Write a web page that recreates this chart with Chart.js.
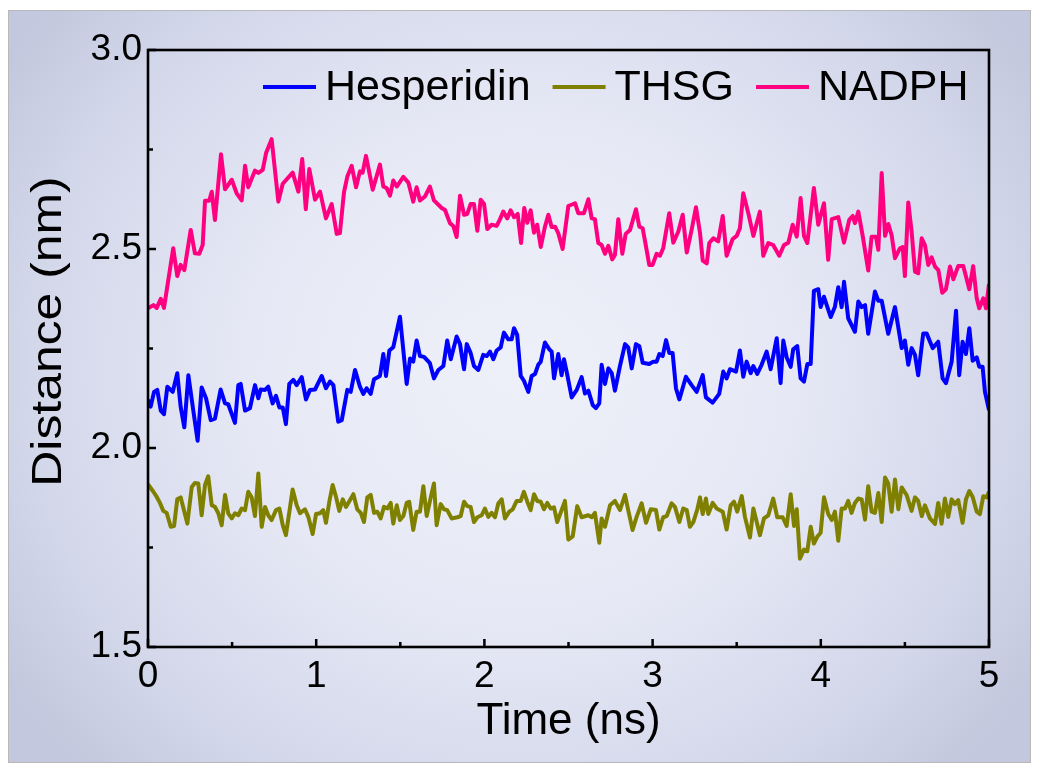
<!DOCTYPE html>
<html>
<head>
<meta charset="utf-8">
<title>Distance vs time</title>
<script src="https://cdn.jsdelivr.net/npm/chart.js@4.4.0/dist/chart.umd.min.js"></script>
<style>
  html, body { margin: 0; padding: 0; background: #fff; }
  #frame {
    position: absolute; left: 8px; top: 10px; width: 1021px; height: 751px;
    border: 1px solid #b9b9b9;
    background: radial-gradient(ellipse 60% 75% at 50% 48%, #eef0f9 0%, #e6e8f5 45%, #d3d7ea 80%, #c3c8de 100%);
  }
  #chart { position: absolute; left: 0; top: 0; }
</style>
</head>
<body>
<div id="frame"></div>
<canvas id="chart" width="1038" height="769"></canvas>
<script>
// ---- data (time in ns, distance in nm) ----
var seriesNames = ["Hesperidin", "THSG", "NADPH"];
var xTitle = "Time (ns)";
var yTitle = "Distance (nm)";

var hespTime = [0,.016,.036,.055,.076,.095,.115,.147,.174,.194,.216,.240,.269,.295,.319,.345,.373,.398,.432,.458,
  .477,.517,.537,.551,.577,.606,.636,.656,.670,.696,.715,.741,.761,.781,.801,.820,.840,.864,.884,.914,
  .939,.963,.993,1.033,1.058,1.082,1.102,1.131,1.152,1.185,1.205,1.231,1.260,1.280,1.300,1.324,1.344,1.379,1.399,1.415,
  1.435,1.458,1.498,1.538,1.558,1.577,1.597,1.617,1.641,1.676,1.700,1.726,1.756,1.779,1.800,1.835,1.855,1.879,1.895,1.918,
  1.938,1.964,1.993,2.014,2.033,2.053,2.073,2.097,2.116,2.142,2.162,2.176,2.195,2.216,2.235,2.261,2.281,2.301,2.320,2.335,
  2.360,2.386,2.400,2.414,2.439,2.459,2.473,2.489,2.519,2.549,2.578,2.598,2.618,2.644,2.663,2.683,2.697,2.717,2.737,2.757,
  2.776,2.806,2.836,2.855,2.876,2.901,2.921,2.941,2.980,3.004,3.024,3.040,3.060,3.080,3.099,3.119,3.139,3.159,3.198,3.232,
  3.262,3.298,3.317,3.357,3.396,3.420,3.440,3.460,3.496,3.519,3.539,3.559,3.583,3.599,3.622,3.648,3.678,3.702,3.738,3.761,
  3.777,3.797,3.821,3.836,3.860,3.880,3.900,3.920,3.940,3.959,3.985,3.999,4.019,4.059,4.084,4.104,4.124,4.138,4.163,4.203,
  4.223,4.243,4.263,4.282,4.322,4.342,4.362,4.401,4.441,4.481,4.500,4.520,4.540,4.560,4.579,4.609,4.629,4.665,4.698,4.724,
  4.744,4.778,4.804,4.823,4.843,4.863,4.883,4.903,4.927,4.942,4.962,4.976,5.000];
var hespDist = [2.121,2.104,2.141,2.146,2.094,2.085,2.154,2.141,2.188,2.104,2.052,2.183,2.095,2.018,2.152,2.125,2.070,2.074,2.147,2.112,
  2.110,2.063,2.158,2.161,2.094,2.100,2.158,2.125,2.147,2.146,2.154,2.112,2.131,2.102,2.102,2.060,2.161,2.171,2.158,2.178,
  2.122,2.146,2.147,2.181,2.150,2.167,2.158,2.066,2.070,2.146,2.141,2.196,2.154,2.136,2.150,2.136,2.173,2.181,2.236,2.181,
  2.245,2.253,2.330,2.161,2.225,2.217,2.270,2.231,2.229,2.213,2.175,2.196,2.206,2.270,2.223,2.280,2.261,2.198,2.261,2.239,
  2.206,2.196,2.234,2.231,2.242,2.223,2.245,2.253,2.290,2.273,2.273,2.301,2.284,2.181,2.169,2.141,2.181,2.186,2.209,2.217,
  2.265,2.248,2.242,2.175,2.236,2.183,2.223,2.192,2.127,2.146,2.178,2.137,2.144,2.108,2.100,2.112,2.209,2.161,2.200,2.188,
  2.144,2.206,2.261,2.253,2.200,2.261,2.256,2.214,2.211,2.217,2.217,2.236,2.231,2.271,2.239,2.239,2.150,2.122,2.179,2.158,
  2.141,2.183,2.127,2.114,2.136,2.192,2.175,2.198,2.192,2.245,2.179,2.217,2.188,2.206,2.186,2.209,2.242,2.198,2.276,2.163,
  2.270,2.228,2.204,2.248,2.256,2.175,2.167,2.211,2.211,2.395,2.399,2.354,2.380,2.329,2.355,2.404,2.354,2.418,2.326,2.292,
  2.368,2.354,2.359,2.287,2.393,2.370,2.370,2.287,2.354,2.251,2.270,2.209,2.251,2.234,2.183,2.288,2.288,2.251,2.267,2.175,
  2.163,2.217,2.345,2.183,2.267,2.236,2.301,2.219,2.228,2.204,2.204,2.141,2.095];

var thsgTime = [0,.032,.052,.071,.091,.111,.135,.155,.174,.194,.234,.260,.279,.299,.319,.339,.358,.379,.398,.418,
  .438,.458,.477,.498,.517,.537,.557,.577,.596,.616,.636,.656,.676,.696,.715,.735,.761,.781,.801,.820,
  .860,.884,.904,.933,.953,.979,.999,1.023,1.042,1.058,1.078,1.098,1.118,1.137,1.158,1.177,1.221,1.244,1.265,1.284,
  1.304,1.324,1.344,1.363,1.383,1.403,1.423,1.443,1.458,1.479,1.498,1.518,1.538,1.553,1.577,1.597,1.617,1.637,1.657,1.681,
  1.700,1.716,1.740,1.760,1.779,1.805,1.839,1.859,1.879,1.898,1.918,1.938,1.958,1.984,2.003,2.023,2.043,2.063,2.083,2.103,
  2.122,2.148,2.168,2.192,2.216,2.235,2.255,2.275,2.295,2.314,2.335,2.354,2.374,2.394,2.414,2.433,2.453,2.479,2.499,2.525,
  2.552,2.578,2.618,2.638,2.657,2.683,2.697,2.717,2.747,2.776,2.806,2.836,2.855,2.881,2.905,2.935,2.961,2.989,3.020,3.040,
  3.063,3.084,3.113,3.133,3.159,3.182,3.203,3.222,3.242,3.266,3.282,3.298,3.317,3.331,3.357,3.381,3.417,3.440,3.464,3.484,
  3.503,3.530,3.549,3.579,3.599,3.619,3.638,3.662,3.688,3.717,3.741,3.773,3.797,3.821,3.841,3.857,3.876,3.900,3.920,3.940,
  3.959,3.979,3.999,4.019,4.044,4.065,4.084,4.104,4.124,4.144,4.163,4.183,4.203,4.223,4.243,4.263,4.282,4.302,4.322,4.342,
  4.362,4.382,4.401,4.421,4.441,4.461,4.481,4.510,4.540,4.560,4.579,4.600,4.619,4.649,4.679,4.698,4.718,4.738,4.758,4.778,
  4.797,4.817,4.843,4.863,4.883,4.903,4.927,4.946,4.966,4.986,5.000];
var thsgDist = [1.909,1.890,1.877,1.862,1.842,1.837,1.802,1.804,1.871,1.876,1.810,1.902,1.912,1.911,1.831,1.907,1.929,1.856,1.852,1.836,
  1.806,1.882,1.836,1.823,1.836,1.831,1.848,1.844,1.890,1.876,1.829,1.936,1.802,1.852,1.831,1.819,1.844,1.848,1.806,1.781,
  1.896,1.856,1.836,1.846,1.827,1.784,1.834,1.836,1.844,1.812,1.865,1.907,1.877,1.842,1.871,1.852,1.884,1.846,1.837,1.814,
  1.876,1.882,1.837,1.840,1.823,1.852,1.848,1.862,1.810,1.856,1.819,1.829,1.862,1.865,1.794,1.840,1.840,1.904,1.829,1.876,
  1.911,1.806,1.859,1.846,1.844,1.823,1.826,1.829,1.865,1.854,1.852,1.814,1.826,1.831,1.848,1.827,1.837,1.826,1.861,1.871,
  1.823,1.840,1.846,1.867,1.867,1.890,1.865,1.844,1.884,1.867,1.865,1.846,1.862,1.848,1.851,1.814,1.837,1.867,1.770,1.778,
  1.854,1.826,1.831,1.826,1.837,1.762,1.823,1.802,1.856,1.867,1.844,1.882,1.844,1.794,1.827,1.861,1.812,1.846,1.844,1.795,
  1.826,1.829,1.861,1.852,1.814,1.848,1.844,1.802,1.814,1.846,1.876,1.834,1.873,1.834,1.862,1.848,1.840,1.795,1.856,1.865,
  1.840,1.879,1.827,1.775,1.848,1.814,1.781,1.823,1.831,1.873,1.826,1.826,1.804,1.884,1.804,1.846,1.722,1.745,1.741,1.802,
  1.760,1.777,1.787,1.876,1.834,1.819,1.840,1.767,1.848,1.848,1.867,1.837,1.862,1.873,1.871,1.820,1.904,1.840,1.837,1.887,
  1.814,1.926,1.911,1.840,1.921,1.846,1.901,1.882,1.842,1.876,1.867,1.829,1.856,1.823,1.809,1.862,1.810,1.873,1.827,1.871,
  1.859,1.869,1.812,1.871,1.892,1.877,1.840,1.834,1.879,1.876,1.890];

var nadphTime = [0,.032,.052,.076,.095,.150,.174,.194,.216,.254,.279,.305,.325,.339,.364,.379,.398,.434,.458,.498,
  .527,.557,.577,.596,.636,.656,.682,.702,.735,.775,.801,.860,.894,.917,.938,.959,.993,1.023,1.058,1.092,
  1.122,1.141,1.165,1.185,1.211,1.237,1.260,1.276,1.296,1.336,1.379,1.399,1.419,1.439,1.458,1.479,1.518,1.548,1.577,1.597,
  1.617,1.647,1.676,1.700,1.746,1.766,1.795,1.815,1.835,1.855,1.879,1.898,1.918,1.938,1.958,1.978,1.998,2.017,2.043,2.073,
  2.093,2.112,2.136,2.156,2.176,2.198,2.218,2.237,2.255,2.275,2.295,2.314,2.335,2.360,2.380,2.400,2.420,2.439,2.465,2.499,
  2.539,2.558,2.592,2.618,2.638,2.657,2.677,2.697,2.717,2.737,2.760,2.776,2.796,2.820,2.840,2.866,2.901,2.921,2.941,2.961,
  2.980,3.000,3.024,3.044,3.063,3.099,3.123,3.153,3.179,3.203,3.232,3.258,3.282,3.298,3.322,3.337,3.361,3.390,3.417,3.440,
  3.476,3.500,3.519,3.539,3.569,3.599,3.638,3.658,3.688,3.717,3.753,3.781,3.807,3.833,3.857,3.880,3.900,3.920,3.959,3.985,
  4.019,4.044,4.065,4.104,4.138,4.169,4.190,4.203,4.223,4.249,4.282,4.302,4.328,4.342,4.362,4.382,4.401,4.421,4.441,4.471,
  4.487,4.500,4.520,4.540,4.560,4.579,4.600,4.619,4.639,4.659,4.679,4.699,4.722,4.744,4.768,4.788,4.817,4.847,4.883,4.906,
  4.927,4.942,4.966,4.982,5.000];
var nadphDist = [2.351,2.359,2.352,2.375,2.352,2.502,2.432,2.460,2.447,2.548,2.489,2.488,2.510,2.621,2.621,2.644,2.573,2.738,2.650,2.674,
  2.640,2.622,2.709,2.655,2.697,2.691,2.699,2.741,2.776,2.619,2.664,2.692,2.644,2.726,2.600,2.701,2.624,2.644,2.577,2.613,
  2.538,2.540,2.642,2.682,2.709,2.655,2.695,2.692,2.734,2.649,2.712,2.657,2.653,2.634,2.672,2.657,2.681,2.667,2.619,2.655,
  2.622,2.632,2.657,2.622,2.603,2.598,2.565,2.558,2.530,2.634,2.586,2.588,2.613,2.613,2.546,2.624,2.613,2.550,2.561,2.558,
  2.575,2.594,2.577,2.597,2.580,2.588,2.515,2.603,2.566,2.597,2.541,2.561,2.505,2.556,2.586,2.555,2.556,2.540,2.500,2.608,
  2.615,2.590,2.590,2.625,2.577,2.575,2.515,2.510,2.488,2.508,2.474,2.485,2.575,2.488,2.538,2.548,2.600,2.556,2.552,2.506,
  2.460,2.460,2.488,2.483,2.502,2.590,2.516,2.544,2.586,2.491,2.548,2.605,2.540,2.471,2.464,2.515,2.527,2.519,2.583,2.483,
  2.525,2.533,2.552,2.640,2.590,2.533,2.594,2.483,2.515,2.510,2.483,2.510,2.516,2.561,2.531,2.628,2.533,2.515,2.653,2.561,
  2.615,2.473,2.575,2.580,2.516,2.573,2.583,2.565,2.594,2.533,2.446,2.531,2.531,2.498,2.691,2.533,2.563,2.535,2.477,2.502,
  2.505,2.432,2.617,2.544,2.443,2.439,2.527,2.510,2.460,2.479,2.456,2.447,2.390,2.399,2.456,2.424,2.457,2.457,2.399,2.457,
  2.376,2.351,2.376,2.351,2.412];

// axis tick values
var xMajorTicks = [0, 1, 2, 3, 4, 5];
var xMinorTicks = [0.5, 1.5, 2.5, 3.5, 4.5];
var yMajorTicks = [1.5, 2.0, 2.5, 3.0];
var yMinorTicks = [1.75, 2.25, 2.75];

function pairs(t, d) {
  var n = Math.min(t.length, d.length);
  var out = [];
  for (var i = 0; i < n; i++) out.push({ x: t[i], y: d[i] });
  return out;
}

var FONT = '"Liberation Sans", Arial, Helvetica, sans-serif';

// box around the plot + inward tick marks
var frameTicks = {
  id: 'frameTicks',
  afterDatasetsDraw: function (chart) {
    var ctx = chart.ctx, a = chart.chartArea;
    var xs = chart.scales.x, ys = chart.scales.y;
    ctx.save();
    ctx.strokeStyle = '#000';
    ctx.lineWidth = 2.5;
    ctx.beginPath();
    xMajorTicks.forEach(function (v) { var p = xs.getPixelForValue(v); ctx.moveTo(p, a.bottom); ctx.lineTo(p, a.bottom - 8); });
    xMinorTicks.forEach(function (v) { var p = xs.getPixelForValue(v); ctx.moveTo(p, a.bottom); ctx.lineTo(p, a.bottom - 5); });
    yMajorTicks.forEach(function (v) { var p = ys.getPixelForValue(v); ctx.moveTo(a.left, p); ctx.lineTo(a.left + 8, p); });
    yMinorTicks.forEach(function (v) { var p = ys.getPixelForValue(v); ctx.moveTo(a.left, p); ctx.lineTo(a.left + 5, p); });
    ctx.stroke();
    ctx.lineWidth = 2.6;
    ctx.strokeRect(a.left, a.top, a.right - a.left, a.bottom - a.top);
    ctx.restore();
  }
};

// y title is a bit stretched along its length in the original
var yTitlePlugin = {
  id: 'yTitle',
  afterDraw: function (chart) {
    var ctx = chart.ctx, a = chart.chartArea;
    ctx.save();
    ctx.translate(49, (a.top + a.bottom) / 2 - 17);
    ctx.rotate(-Math.PI / 2);
    ctx.scale(1.16, 1);
    ctx.font = '43px ' + FONT;
    ctx.fillStyle = '#000';
    ctx.textAlign = 'center';
    ctx.textBaseline = 'middle';
    ctx.fillText(yTitle, 0, 0);
    ctx.restore();
  }
};

// legend drawn inside the plot, top right
var innerLegend = {
  id: 'innerLegend',
  afterDraw: function (chart) {
    var ctx = chart.ctx;
    var x = 263, y = 87;
    ctx.save();
    ctx.font = '43px ' + FONT;
    ctx.textBaseline = 'middle';
    chart.data.datasets.forEach(function (ds) {
      ctx.strokeStyle = ds.borderColor;
      ctx.lineWidth = 4;
      ctx.beginPath();
      ctx.moveTo(x, y);
      ctx.lineTo(x + 53, y);
      ctx.stroke();
      ctx.fillStyle = '#000';
      ctx.fillText(ds.label, x + 62, y + 1);
      x += 62 + ctx.measureText(ds.label).width + 22;
    });
    ctx.restore();
  }
};

var ctx = document.getElementById('chart');
var config = {
  type: 'line',
  data: {
    datasets: [
      { label: seriesNames[0], data: pairs(hespTime, hespDist), borderColor: '#0000ff' },
      { label: seriesNames[1], data: pairs(thsgTime, thsgDist), borderColor: '#808000' },
      { label: seriesNames[2], data: pairs(nadphTime, nadphDist), borderColor: '#ff0080' }
    ]
  },
  options: {
    responsive: false,
    animation: false,
    devicePixelRatio: 1,
    layout: { padding: { top: 50, right: 49, left: 0, bottom: 0 } },
    elements: {
      line: { borderWidth: 4, tension: 0, borderJoinStyle: 'round', fill: false },
      point: { radius: 0 }
    },
    plugins: { legend: { display: false }, tooltip: { enabled: false } },
    scales: {
      x: {
        type: 'linear', min: 0, max: 5,
        grid: { display: false, drawTicks: false },
        border: { display: false },
        ticks: { stepSize: 1, color: '#000', padding: 8, maxRotation: 0, font: { family: FONT, size: 37 } },
        title: { display: true, text: xTitle, color: '#000', font: { family: FONT, size: 44 }, padding: { top: 0, bottom: 21 } },
        afterFit: function (s) { s.height = 122; }
      },
      y: {
        type: 'linear', min: 1.5, max: 3.0,
        grid: { display: false, drawTicks: false },
        border: { display: false },
        ticks: { stepSize: 0.5, color: '#000', padding: 6, font: { family: FONT, size: 37 },
          callback: function (v) { return Number(v).toFixed(1); } },
        title: { display: false },
        afterFit: function (s) { s.width = 148; }
      }
    }
  },
  plugins: [frameTicks, yTitlePlugin, innerLegend]
};
var myChart = new Chart(ctx, config);
</script>
</body>
</html>
